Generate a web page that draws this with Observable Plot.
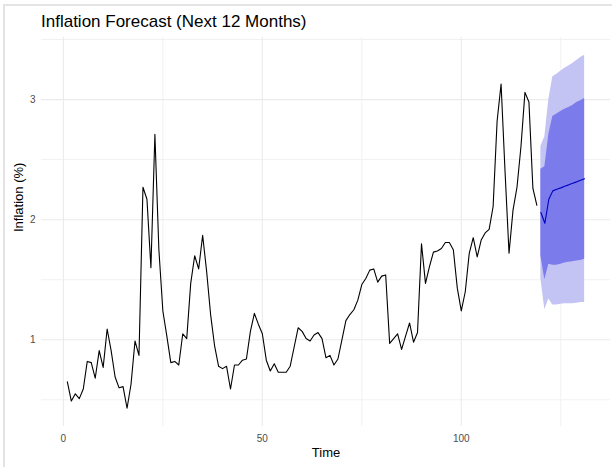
<!DOCTYPE html>
<html>
<head>
<meta charset="utf-8">
<script src="https://cdn.jsdelivr.net/npm/d3@7"></script>
<script src="https://cdn.jsdelivr.net/npm/@observablehq/plot@0.6"></script>
<style>
  body { margin: 0; background: #fff; }
  #wrap { position: relative; width: 612px; height: 467px; overflow: hidden;
          font-family: "Liberation Sans", Arial, sans-serif; }
  #wrap svg { position: absolute; left: 0; top: 0; }
  #frame { position: absolute; left: 3px; top: 4px; right: -4px; bottom: -4px;
           border-left: 2px solid #e4e4e4; border-top: 2px solid #e4e4e4; pointer-events: none; }
  #title { position: absolute; left: 41px; top: 13px; font-size: 17px; line-height: 17px;
           color: #000; white-space: nowrap; }
</style>
</head>
<body>
<div id="wrap">
  <div id="frame"></div>
  <div id="title">Inflation Forecast (Next 12 Months)</div>
</div>
<script>
// Monthly inflation (%), observations 1..119
const inflation = [
  0.65, 0.49, 0.55, 0.51, 0.59, 0.82, 0.81, 0.68, 0.91, 0.77,
  1.09, 0.91, 0.69, 0.60, 0.61, 0.43, 0.63, 0.99, 0.87, 2.27,
  2.17, 1.60, 2.71, 1.75, 1.24, 1.03, 0.81, 0.82, 0.79, 1.05,
  1.01, 1.47, 1.70, 1.59, 1.87, 1.57, 1.21, 0.95, 0.78, 0.76,
  0.78, 0.59, 0.79, 0.79, 0.83, 0.84, 1.07, 1.22, 1.13, 1.05,
  0.83, 0.74, 0.80, 0.73, 0.73, 0.73, 0.78, 0.94, 1.10, 1.07,
  1.01, 0.99, 1.04, 1.06, 1.01, 0.85, 0.87, 0.79, 0.84, 1.00,
  1.16, 1.21, 1.25, 1.33, 1.46, 1.51, 1.58, 1.59, 1.48, 1.53,
  1.54, 0.97, 1.01, 1.05, 0.92, 1.03, 1.14, 0.98, 1.06, 1.80,
  1.47, 1.61, 1.73, 1.74, 1.76, 1.81, 1.81, 1.75, 1.43, 1.24,
  1.40, 1.72, 1.85, 1.69, 1.83, 1.89, 1.92, 2.11, 2.82, 3.13,
  2.40, 1.72, 2.08, 2.27, 2.61, 3.06, 2.98, 2.26, 2.12
];

// 12-month forecast: point forecast with 80% and 95% intervals
const forecastTime = [120, 121, 122, 123, 124, 125, 126, 127, 128, 129, 130, 131];
const forecastMean = [2.06, 1.97, 2.17, 2.24, 2.253, 2.265, 2.278, 2.29, 2.303, 2.315, 2.328, 2.34];
const lo80 = [1.70, 1.50, 1.63, 1.62, 1.62, 1.63, 1.64, 1.645, 1.65, 1.655, 1.66, 1.67];
const hi80 = [2.42, 2.44, 2.71, 2.86, 2.88, 2.90, 2.92, 2.935, 2.95, 2.975, 2.99, 3.01];
const lo95 = [1.51, 1.25, 1.34, 1.29, 1.29, 1.295, 1.30, 1.30, 1.30, 1.305, 1.31, 1.31];
const hi95 = [2.61, 2.69, 3.00, 3.19, 3.21, 3.235, 3.26, 3.28, 3.30, 3.325, 3.35, 3.37];

const xMajor = [0, 50, 100];
const xMinor = [25, 75, 125];
const yMajor = [1, 2, 3];
const yMinor = [0.5, 1.5, 2.5, 3.5];

const history = inflation.map((v, i) => ({ t: i + 1, v }));
const forecast = forecastTime.map((t, i) => ({
  t, mean: forecastMean[i], lo80: lo80[i], hi80: hi80[i], lo95: lo95[i], hi95: hi95[i]
}));

const font = "Liberation Sans, Arial, sans-serif";

const chart = Plot.plot({
  width: 612,
  height: 467,
  marginTop: 37,
  marginBottom: 41,
  marginLeft: 41,
  marginRight: 2,
  style: { fontFamily: font, background: "transparent", overflow: "visible" },
  x: { domain: [-5.5, 137.5] },
  y: { domain: [0.278, 3.517] },
  marks: [
    Plot.gridX(xMinor, { stroke: "#f1f1f1", strokeOpacity: 1, strokeWidth: 1 }),
    Plot.gridY(yMinor, { stroke: "#f1f1f1", strokeOpacity: 1, strokeWidth: 1 }),
    Plot.gridX(xMajor, { stroke: "#ebebeb", strokeOpacity: 1, strokeWidth: 1.1 }),
    Plot.gridY(yMajor, { stroke: "#ebebeb", strokeOpacity: 1, strokeWidth: 1.1 }),
    Plot.areaY(forecast, { x: "t", y1: "lo95", y2: "hi95", fill: "#c4c4f4", fillOpacity: 1 }),
    Plot.areaY(forecast, { x: "t", y1: "lo80", y2: "hi80", fill: "#7b7bec", fillOpacity: 1 }),
    Plot.lineY(history, { x: "t", y: "v", stroke: "#000", strokeWidth: 1.1 }),
    Plot.lineY(forecast, { x: "t", y: "mean", stroke: "#0000c0", strokeWidth: 1.1 }),
    Plot.axisX(xMajor, { tickSize: 0, tickPadding: 8, fontSize: 10, color: "#4d4d4d", label: null, tickFormat: d => String(d) }),
    Plot.axisY(yMajor, { tickSize: 0, tickPadding: 6, fontSize: 10, color: "#4d4d4d", label: null, tickFormat: d => String(d) }),
    Plot.text(["Time"], { frameAnchor: "bottom", dy: 30, lineAnchor: "bottom", fontSize: 13, fill: "#000" }),
    Plot.text(["Inflation (%)"], { frameAnchor: "left", dx: -19, rotate: -90, lineAnchor: "bottom", fontSize: 13, fill: "#000" })
  ]
});

document.getElementById("wrap").prepend(chart);
</script>
</body>
</html>
